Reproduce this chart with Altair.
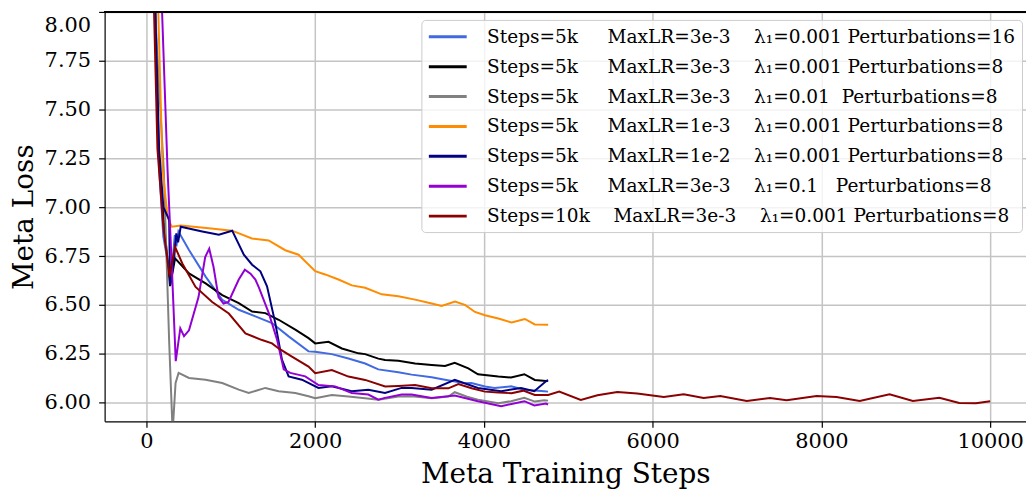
import altair as alt
import pandas as pd

NB = "\u00a0"

def lab(steps, lr, lam, pert, g1, g2, g3):
    return f"Steps={steps}" + NB * g1 + f"MaxLR={lr}" + NB * g2 + f"λ₁={lam}" + NB * g3 + f"Perturbations={pert}"

labels = [
    lab("5k", "3e-3", "0.001", "16", 5, 4, 1),
    lab("5k", "3e-3", "0.001", "8", 5, 4, 1),
    lab("5k", "3e-3", "0.01", "8", 5, 4, 2),
    lab("5k", "1e-3", "0.001", "8", 5, 4, 1),
    lab("5k", "1e-2", "0.001", "8", 5, 4, 1),
    lab("5k", "3e-3", "0.1", "8", 5, 4, 3),
    lab("10k", "3e-3", "0.001", "8", 4, 4, 1),
]
colors = ["#4169e1", "#000000", "#808080", "#ff8c00", "#000080", "#9400d3", "#8b0000"]

blue_steps = [0, 110, 150, 200, 260, 290, 336, 355, 379, 504, 701, 898, 1094, 1291, 1488, 1685, 1921, 2000, 2197, 2394, 2592, 2748, 2986, 3143, 3381, 3537, 3775, 3851, 4012, 4125, 4322, 4479, 4603, 4715, 4760]
blue_loss = [11, 8.0, 7.2, 6.85, 6.7, 6.62, 6.858, 6.80, 6.876, 6.781, 6.645, 6.526, 6.475, 6.441, 6.407, 6.339, 6.262, 6.26, 6.248, 6.226, 6.20, 6.17, 6.155, 6.143, 6.13, 6.117, 6.099, 6.10, 6.082, 6.075, 6.083, 6.066, 6.062, 6.058, 6.056]

black_steps = [0, 100, 140, 200, 280, 339, 504, 701, 898, 1094, 1252, 1409, 1567, 1764, 1921, 2000, 2158, 2316, 2513, 2592, 2748, 2829, 2986, 3184, 3381, 3539, 3654, 3815, 3929, 4170, 4322, 4479, 4603, 4735, 4760]
black_loss = [11, 8.0, 7.3, 6.95, 6.596, 6.738, 6.661, 6.61, 6.55, 6.509, 6.466, 6.458, 6.424, 6.373, 6.33, 6.303, 6.311, 6.277, 6.252, 6.248, 6.225, 6.218, 6.214, 6.20, 6.192, 6.187, 6.204, 6.175, 6.145, 6.133, 6.128, 6.145, 6.116, 6.11, 6.112]

gray_steps = [0, 100, 205, 270, 310, 345, 381, 504, 701, 898, 1094, 1212, 1409, 1567, 1764, 1921, 2000, 2197, 2394, 2592, 2748, 2986, 3143, 3381, 3578, 3654, 3800, 3929, 4170, 4322, 4479, 4603, 4715, 4760]
gray_loss = [11, 8.0, 7.19, 6.3, 5.85, 6.1, 6.152, 6.126, 6.117, 6.10, 6.066, 6.049, 6.075, 6.058, 6.049, 6.032, 6.022, 6.039, 6.031, 6.022, 6.015, 6.031, 6.032, 6.022, 6.031, 6.053, 6.03, 6.015, 5.997, 6.007, 6.024, 6.005, 6.012, 6.01]

orange_steps = [0, 140, 190, 250, 300, 410, 738, 1014, 1250, 1448, 1645, 1803, 2000, 2118, 2276, 2434, 2592, 2789, 2986, 3184, 3381, 3499, 3657, 3775, 3894, 4012, 4170, 4328, 4485, 4603, 4761]
orange_loss = [11, 8.0, 7.2, 6.95, 6.9, 6.906, 6.893, 6.88, 6.84, 6.83, 6.78, 6.757, 6.673, 6.656, 6.63, 6.60, 6.588, 6.554, 6.544, 6.527, 6.507, 6.495, 6.517, 6.50, 6.464, 6.447, 6.43, 6.41, 6.428, 6.40, 6.398]

navy_steps = [0, 105, 150, 200, 255, 269, 280, 300, 330, 354, 375, 406, 661, 858, 1016, 1154, 1252, 1350, 1429, 1527, 1606, 1685, 1842, 2039, 2197, 2433, 2630, 2827, 3024, 3143, 3380, 3654, 3929, 4204, 4440, 4597, 4735, 4760]
navy_loss = [11, 8.0, 7.3, 7.0, 6.95, 6.934, 6.6, 6.65, 6.75, 6.866, 6.82, 6.90, 6.876, 6.859, 6.88, 6.757, 6.706, 6.672, 6.595, 6.407, 6.22, 6.134, 6.117, 6.075, 6.083, 6.058, 6.066, 6.049, 6.075, 6.075, 6.066, 6.117, 6.075, 6.058, 6.075, 6.058, 6.109, 6.115]

purple_steps = [0, 185, 250, 300, 347, 401, 445, 504, 617, 696, 744, 795, 854, 913, 972, 1094, 1166, 1233, 1291, 1332, 1450, 1548, 1627, 1705, 1882, 2039, 2236, 2433, 2630, 2748, 2827, 3024, 3143, 3380, 3654, 3929, 4204, 4479, 4597, 4735, 4760]
purple_loss = [11, 8.0, 7.19, 6.7, 6.212, 6.38, 6.34, 6.37, 6.54, 6.745, 6.788, 6.694, 6.54, 6.507, 6.515, 6.63, 6.68, 6.66, 6.63, 6.59, 6.458, 6.322, 6.17, 6.152, 6.134, 6.09, 6.083, 6.049, 6.041, 6.015, 6.024, 6.041, 6.041, 6.024, 6.036, 6.007, 5.981, 6.007, 5.985, 5.995, 5.99]

red_steps = [0, 90, 130, 200, 272, 339, 425, 582, 779, 976, 1173, 1370, 1488, 1567, 1724, 1921, 2000, 2197, 2394, 2592, 2829, 2986, 3184, 3381, 3578, 3697, 3854, 4012, 4170, 4328, 4466, 4603, 4761, 4892, 5148, 5345, 5581, 5817, 6132, 6368, 6604, 6801, 7116, 7391, 7588, 7943, 8179, 8454, 8808, 9084, 9398, 9634, 9831, 10000]
red_loss = [11, 8.0, 7.3, 6.9, 6.647, 6.797, 6.712, 6.592, 6.515, 6.456, 6.354, 6.32, 6.303, 6.277, 6.235, 6.184, 6.15, 6.167, 6.133, 6.116, 6.082, 6.085, 6.09, 6.073, 6.073, 6.095, 6.073, 6.056, 6.051, 6.048, 6.061, 6.039, 6.039, 6.056, 6.013, 6.037, 6.054, 6.046, 6.029, 6.042, 6.023, 6.034, 6.008, 6.023, 6.012, 6.034, 6.029, 6.008, 6.042, 6.008, 6.024, 5.998, 5.996, 6.007]

x_ticks = [0, 2000, 4000, 6000, 8000, 10000]
y_ticks = [6.0, 6.25, 6.5, 6.75, 7.0, 7.25, 7.5, 7.75, 8.0]

series = [
    (blue_steps, blue_loss), (black_steps, black_loss), (gray_steps, gray_loss),
    (orange_steps, orange_loss), (navy_steps, navy_loss), (purple_steps, purple_loss),
    (red_steps, red_loss),
]
rows = []
for i, (s, l) in enumerate(series):
    for j, (a, b) in enumerate(zip(s, l)):
        rows.append({"step": a, "loss": b, "run": labels[i], "k": i, "o": j})
df = pd.DataFrame(rows)

FONT = "DejaVu Serif"

lines = alt.Chart(df).mark_line(strokeWidth=2, clip=True).encode(
    x=alt.X("step:Q", scale=alt.Scale(domain=[-496, 10425], nice=False, zero=False),
            axis=alt.Axis(values=x_ticks, format="d", title="Meta Training Steps",
                          titlePadding=9, labelPadding=3, labelFont=FONT)),
    y=alt.Y("loss:Q", scale=alt.Scale(domain=[5.904, 8.0], nice=False, zero=False),
            axis=alt.Axis(values=y_ticks, format=".2f", title="Meta Loss", labelFont=FONT,
                          titlePadding=6, labelPadding=8, labelFlush=1, labelFlushOffset=-3)),
    color=alt.Color("run:N", scale=alt.Scale(domain=labels, range=colors), sort=labels,
                    legend=alt.Legend(orient="none", legendX=318, legendY=8, title=None,
                                      symbolType="M-1,0H3", symbolSize=361, symbolStrokeWidth=3,
                                      labelFont=FONT, labelFontSize=18.6, labelOffset=38,
                                      labelLimit=2000, fillColor="rgba(255,255,255,0.8)",
                                      strokeColor="#cccccc", padding=6, cornerRadius=4,
                                      rowPadding=9, labelColor="black")),
    detail="k:N",
    order="o:Q",
)

top = alt.Chart(df).mark_rule(color="black", strokeWidth=1.2).encode(y=alt.value(0))

chart = alt.layer(lines, top).properties(
    width=925, height=411,
    autosize=alt.AutoSizeParams(type="none"),
    padding={"left": 97, "top": 3, "right": 0, "bottom": 67},
).configure(font=FONT).configure_view(stroke=None).configure_axis(
    labelFont=FONT, labelFontSize=21, labelColor="black",
    titleFont=FONT, titleFontSize=28, titleFontWeight="normal", titleColor="black",
    domainColor="black", domainWidth=1.2, tickColor="black", tickWidth=1.2, tickSize=6,
    gridColor="#c4c4c4", gridWidth=1.5,
).configure_legend(labelFont=FONT, labelFontSize=18.6)

chart.save("out.html", embed_options={"renderer": "svg", "actions": False})
